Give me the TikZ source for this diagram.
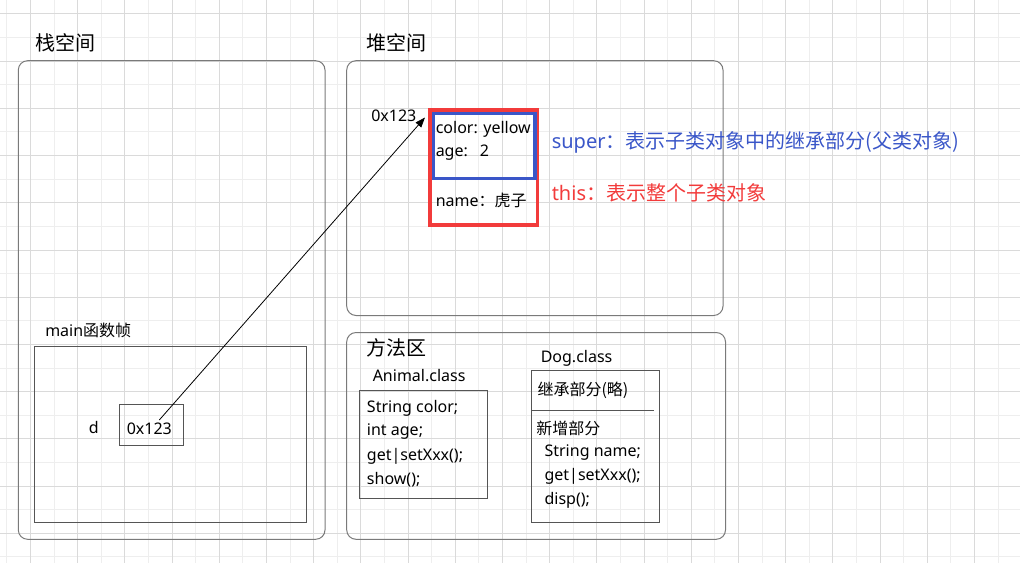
\documentclass[tikz,border=0pt]{standalone}
\usepackage{fontspec}
\setmainfont{Noto Sans}
\newfontfamily\cjk{Noto Sans CJK SC}
\usetikzlibrary{fit,arrows.meta}
\definecolor{gridmin}{HTML}{EEEEEE}
\definecolor{gridmaj}{HTML}{DADADA}
\definecolor{areagray}{HTML}{7A7A7A}
\definecolor{boxgray}{HTML}{555555}
\definecolor{thisred}{HTML}{F23B3B}
\definecolor{superblue}{HTML}{3A56C8}
\tikzset{
	area/.style={draw=areagray, line width=0.75pt, rounded corners=7pt, inner sep=0pt},
	frame/.style={draw=boxgray, line width=0.75pt, inner sep=0pt},
	title/.style={anchor=west, inner sep=0pt, font=\cjk\fontsize{15}{18}\selectfont},
	lbl/.style={anchor=west, inner sep=0pt, font=\fontsize{12}{14}\selectfont},
	note/.style={anchor=west, inner sep=0pt, font=\fontsize{15}{18}\selectfont},
}
\begin{document}
\begin{tikzpicture}[x=0.75pt, y=-0.75pt]
			\useasboundingbox (0,0) rectangle (1020,563);
			% grid
			\foreach \k in {0,...,42}
			{	\draw[gridmin, line width=0.75pt] ({6.9+23.6*\k},0) -- ({6.9+23.6*\k},563);
			}
			\foreach \k in {0,...,23}
			{	\draw[gridmin, line width=0.75pt] (0,{14+23.6*\k}) -- (1020,{14+23.6*\k});
			}
			\foreach \k in {1,3,...,41}
			{	\draw[gridmaj, line width=0.75pt] ({6.9+23.6*\k},0) -- ({6.9+23.6*\k},563);
			}
			\foreach \k in {0,2,...,22}
			{	\draw[gridmaj, line width=0.75pt] (0,{14+23.6*\k}) -- (1020,{14+23.6*\k});
			}
			%
			\node[area, fit={(18.3,60.7)(325,539.3)}]	(stack)	{};
			\node[area, fit={(346.7,60.7)(723,315.5)}]	(heap)	{};
			\node[area, fit={(346.7,332.5)(725.5,539.3)}]	(method)	{};
			\node[title] (stackT)	at (35,  43)	{栈空间};
			\node[title] (heapT)	at (366.5,43)	{堆空间};
			\node[title] (methodT)	at (366,347.5)	{方法区};
			%
			\node[frame, fit={(34.3,346)(306.7,522)}]	(mainF)	{};
			\node[lbl]	(mainT)	at (45, 330.5)	{main{\cjk 函数帧}};
			\node[lbl]	(dvar)	at (88.5,427)	{d};
			\node[frame, fit={(119.3,404.3)(183.3,445.3)}]	(dbox)	{};
			\node[lbl]	(dval)	at (126.5,429)	{0x123};
			%
			\node[lbl]	(addr)	at (371,116)	{0x123};
			\node[draw=thisred, line width=2.5pt, inner sep=0pt, fit={(430,110)(537.7,225)}]	(obj)	{};
			\node[draw=superblue, line width=2.5pt, inner sep=0pt, fit={(433.3,113.3)(535,178.3)}]	(objsup)	{};
			\node[lbl]	(fcolor)	at (435.5,129.3)	{color: yellow};
			\node[lbl]	(fage)	at (435.5,152.7)	{age:\hspace{9pt}2};
			\node[lbl]	(fname)	at (435.5,200)	{name{\cjk ：虎子}};
			\node[note, text=superblue]	(superN)	at (551.5,142.7)	{super{\cjk ：表示子类对象中的继承部分(父类对象)}};
			\node[note, text=thisred]	(thisN)	at (551.5,193.3)	{this{\cjk ：表示整个子类对象}};
			%
			\coordinate (ptr)	at (159.3,420);
			\coordinate (objtip)	at (425,117.5);
			\draw[-{Triangle[length=7.5pt,width=5.5pt]}, line width=0.6pt] (ptr) -- (objtip);
			%
			\node[lbl]	(animalT)	at (372.5,376)	{Animal.class};
			\node[frame, fit={(359.3,390.7)(487.3,498.3)}]	(animal)	{};
			\def\animal {String color;/408.3, int age;/432, get|setXxx();/456, show();/480}  % list elements
			\foreach \txt/\y [count=\i] in \animal
			{	\node[lbl] (a\i) at (366.7,\y) {\txt};
			}
			\node[lbl]	(dogT)	at (540.5,358.3)	{Dog.class};
			\node[frame, fit={(531.7,370.7)(659.3,522.3)}]	(dog)	{};
			\draw[boxgray, line width=0.75pt] (dog.west |- 0,410) -- (654.3,410);
			\node[lbl, font=\cjk\fontsize{12}{14}\selectfont]	(inh)	at (537.3,390)	{继承部分(略)};
			\node[lbl, font=\cjk\fontsize{12}{14}\selectfont]	(newp)	at (536,428.3)	{新增部分};
			\def\dog {String name;/452.7, get|setXxx();/476.7, disp();/500.7}  % list elements
			\foreach \txt/\y [count=\i] in \dog
			{	\node[lbl] (d\i) at (544.3,\y) {\txt};
			}
			%
\end{tikzpicture}
\end{document}
